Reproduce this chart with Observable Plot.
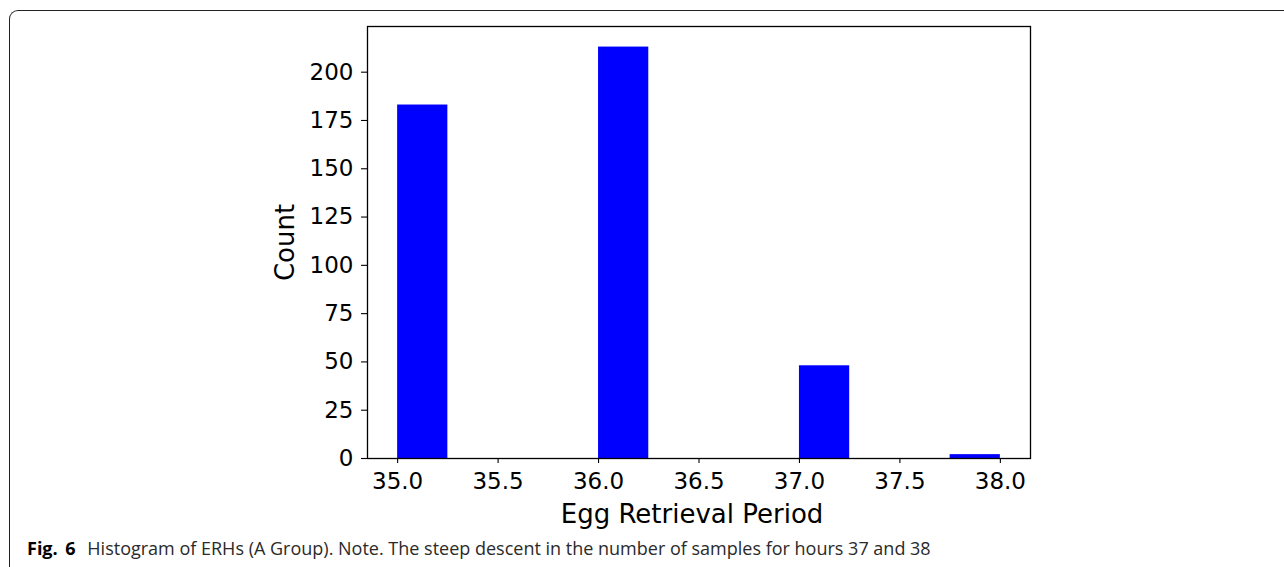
<!DOCTYPE html>
<html>
<head>
<meta charset="utf-8">
<script src="https://cdn.jsdelivr.net/npm/d3@7"></script>
<script src="https://cdn.jsdelivr.net/npm/@observablehq/plot@0.6"></script>
<style>
  html, body { margin: 0; padding: 0; background: #fff; }
  #wrap { position: relative; width: 1284px; height: 567px; overflow: hidden; }
  #border { position: absolute; left: 9px; top: 10px; width: 1300px; height: 600px;
            border-left: 1.3px solid #222; border-top: 1.3px solid #222; border-top-left-radius: 9px; }
  #chart { position: absolute; left: 0; top: 0; }
  #caption { position: absolute; left: 27px; top: 539px; font-family: "Open Sans", "Noto Sans", sans-serif;
             font-size: 18px; line-height: 18px; color: #2a2a2a; white-space: nowrap; letter-spacing: 0px; }
  #caption b { color: #000; font-weight: 700; margin-right: 7px; word-spacing: 3px; }
</style>
</head>
<body>
<div id="wrap">
  <div id="border"></div>
  <div id="chart"></div>
  <div id="caption"><b>Fig. 6</b> Histogram of ERHs (A Group). Note. The steep descent in the number of samples for hours 37 and 38</div>
</div>
<script>
// Histogram bins (only non-empty bins; bin width 0.25)
const binStart = [35.0, 36.0, 37.0, 37.75];
const binEnd   = [35.25, 36.25, 37.25, 38.0];
const counts   = [183, 213, 48, 2];
const xTicks = [35.0, 35.5, 36.0, 36.5, 37.0, 37.5, 38.0];
const yTicks = [0, 25, 50, 75, 100, 125, 150, 175, 200];
const xLabel = "Egg Retrieval Period";
const yLabel = "Count";

const bins = binStart.map((s, i) => ({x1: s, x2: binEnd[i], y: counts[i]}));

const font = "DejaVu Sans, sans-serif";
const chart = Plot.plot({
  width: 1284,
  height: 532,
  marginLeft: 367,
  marginRight: 254,
  marginTop: 26,
  marginBottom: 74,
  style: {fontFamily: font, background: "transparent", overflow: "visible"},
  x: {domain: [34.85, 38.15]},
  y: {domain: [0, 223.65]},
  marks: [
    Plot.rectY(bins, {x1: "x1", x2: "x2", y1: 0, y2: "y", fill: "#0000ff"}),
    Plot.frame({stroke: "#000", strokeWidth: 1.3}),
    Plot.axisX({ticks: xTicks, tickFormat: d => d.toFixed(1), tickSize: 5, tickPadding: 9, fontSize: 23, label: null, stroke: "#000", strokeWidth: 1.1, fill: "#000"}),
    Plot.axisY({ticks: yTicks, tickFormat: d => String(d), tickSize: 6, tickPadding: 8, fontSize: 23, label: null, stroke: "#000", strokeWidth: 1.1, fill: "#000"}),
    Plot.text([xLabel], {frameAnchor: "bottom", text: d => d, dy: 56, dx: -7, lineAnchor: "middle", textAnchor: "middle", fontSize: 26, fill: "#000"}),
    Plot.text([yLabel], {frameAnchor: "left", text: d => d, dx: -82, rotate: -90, lineAnchor: "middle", textAnchor: "middle", fontSize: 26, fill: "#000"})
  ]
});
document.getElementById("chart").appendChild(chart);
</script>
</body>
</html>
